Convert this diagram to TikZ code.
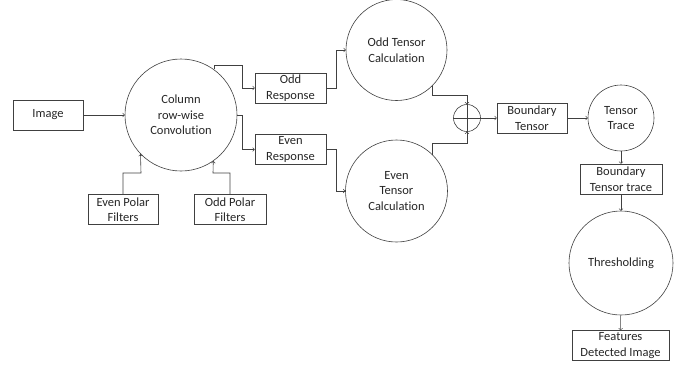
\documentclass[tikz,border=0pt]{standalone}
\usepackage{fontspec}
\setmainfont{Carlito}[Ligatures=NoCommon]
\usepackage{tikz}
\tikzset{>=to}
\tikzset{
  blk/.style={draw=black!75,rectangle,minimum height=30pt,inner sep=1pt,align=center},
  proc/.style={draw=black!75,circle,inner sep=0pt,align=center},
  link/.style={->,draw=black!75,line width=0.6pt}
}

\begin{document}
\begin{tikzpicture}[x=1pt,y=-1pt,font=\fontsize{12.5}{15.5}\selectfont,text=black!85,line width=0.6pt]
                \useasboundingbox (0,0) rectangle (696,376);
                \node[blk,minimum width=70pt] (img) at (48,115) {Image};
                \node[proc,minimum size=112pt] (conv) at (181,115) {Column\\row-wise\\Convolution};
                \node[blk,minimum width=71pt] (oddr) at (290.5,88) {Odd\\Response};
                \node[blk,minimum width=71pt] (evenr) at (290.5,149.5) {Even\\Response};
                \node[blk,minimum width=70pt] (evpf) at (123,209.5) {Even Polar\\Filters};
                \node[blk,minimum width=72pt] (odpf) at (230,209.5) {Odd Polar\\Filters};
                \node[proc,minimum size=101pt] (oddt) at (396.5,50) {Odd Tensor\\Calculation};
                \node[proc,minimum size=102pt] (event) at (396.5,191) {Even\\Tensor\\Calculation};
                \node[proc,minimum size=27pt] (sum) at (467,118) {};
                \node[blk,minimum width=70pt] (bt) at (532,118) {Boundary\\Tensor};
                \node[proc,minimum size=66pt] (tt) at (621,118) {Tensor\\Trace};
                \node[blk,minimum width=82pt] (btt) at (621,179) {Boundary\\Tensor trace};
                \node[proc,minimum size=104pt] (thr) at (621,263) {Thresholding};
                \node[blk,minimum width=97pt] (fdi) at (620.5,345.5) {Features\\Detected Image};
                % cross in the summing circle
                \draw[black!75] (sum.north) -- (sum.south);
                \draw[black!75] (sum.west) -- (sum.east);
                \draw[link] (img) -- (conv);
                \draw[link] (conv.54) |- (242,65) |- (oddr.west);
                \draw[link] (conv.east) -- (242,115) |- (evenr.west);
                \draw[link] (evpf.north) |- (141,173) -- (conv.-136);
                \draw[link] (odpf.north) |- (213,173) -- (conv.-55);
                \draw[link] (oddr.east) -- (336,88) |- (oddt.west);
                \draw[link] (evenr.east) -- (336,149.5) |- (event.west);
                \draw[link] (oddt.-45) |- (467,95) -- (sum.north);
                \draw[link] (event.45) |- (467,143) -- (sum.south);
                \draw[link] (sum) -- (bt);
                \draw[link] (bt) -- (tt);
                \draw[link] (tt) -- (btt);
                \draw[link] (btt) -- (thr);
                \draw[link] (thr) -- (fdi);
            \end{tikzpicture}
\end{document}
